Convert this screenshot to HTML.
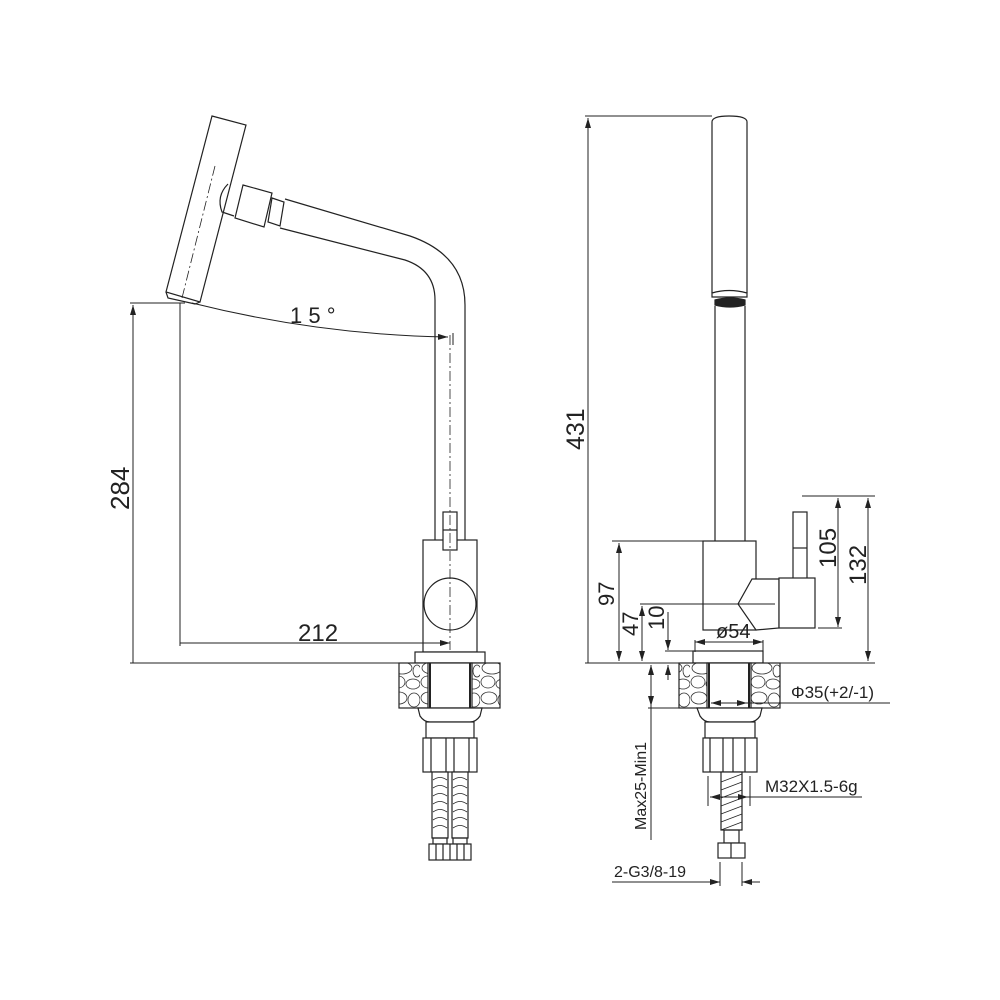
<!DOCTYPE html>
<html><head><meta charset="utf-8"><style>
html,body{margin:0;padding:0;background:#fff}
svg{display:block}
text{font-family:"Liberation Sans",Arial,sans-serif;fill:#222}
</style></head><body>
<svg width="1000" height="1000" viewBox="0 0 1000 1000" xmlns="http://www.w3.org/2000/svg">
<defs>
<marker id="a" viewBox="0 0 10 6" refX="10" refY="3" markerWidth="10" markerHeight="6" orient="auto-start-reverse" markerUnits="userSpaceOnUse"><path d="M0,0 L10,3 L0,6 z" fill="#222"/></marker>
<pattern id="stone" width="30" height="46" patternUnits="userSpaceOnUse">
<rect width="30" height="46" fill="#fff"/>
<g fill="none" stroke="#333" stroke-width="0.8">
<ellipse cx="9" cy="8" rx="8" ry="6"/><ellipse cx="24" cy="10" rx="6" ry="7"/>
<ellipse cx="12" cy="24" rx="10" ry="6"/><ellipse cx="27" cy="27" rx="4" ry="6"/>
<ellipse cx="8" cy="38" rx="7" ry="6"/><ellipse cx="23" cy="40" rx="7" ry="5"/>
</g></pattern>
</defs>
<g fill="none" stroke="#222" stroke-width="1.2">
<!-- ================= LEFT VIEW ================= -->
<polygon points="212,116 246,125 200,302 166,292" fill="#fff"/>
<line x1="215" y1="166" x2="182" y2="298" stroke-dasharray="10,3,2,3" stroke-width="0.8"/>
<path d="M166,292 L168,298 L195,304 L200,302"/>
<path d="M228,184 Q216,196 222,212 L234,216"/>
<polygon points="243,185 272,193 264,227 235,218" fill="#fff"/>
<polygon points="272,198 284,202 280,226 268,222" fill="#fff"/>
<path d="M285,199 L410,236 Q465,255 465,305 L465,540"/>
<path d="M280,228 L405,260 Q435,270 435,300 L435,540"/>
<rect x="423" y="540" width="54" height="112" fill="#fff"/>
<rect x="443" y="512" width="14" height="38" fill="#fff"/>
<line x1="443" y1="530" x2="457" y2="530"/>
<circle cx="450" cy="604" r="26" fill="#fff"/>
<line x1="450" y1="335" x2="450" y2="650" stroke-dasharray="10,3,2,3" stroke-width="0.8"/>
<rect x="415" y="652" width="70" height="11" fill="#fff"/>
<rect x="399" y="663" width="101" height="45" fill="url(#stone)"/>
<rect x="428" y="663" width="44" height="45" fill="#fff"/>
<line x1="430" y1="663" x2="430" y2="708" stroke-width="2"/><line x1="470" y1="663" x2="470" y2="708" stroke-width="2"/>
<path d="M418,708 L482,708 L480,716 Q476,722 470,722 L430,722 Q424,722 420,716 Z" fill="#fff"/>
<rect x="426" y="722" width="48" height="16" fill="#fff"/>
<rect x="423" y="738" width="54" height="34" fill="#fff"/>
<line x1="431" y1="738" x2="431" y2="772"/><line x1="446" y1="738" x2="446" y2="772"/><line x1="454" y1="738" x2="454" y2="772"/><line x1="469" y1="738" x2="469" y2="772"/>
<rect x="432" y="772" width="16" height="66" fill="#fff"/><rect x="452" y="772" width="16" height="66" fill="#fff"/>
<g stroke-width="0.8">
<path d="M433,780 Q440,775 447,780 M433,788 Q440,783 447,788 M433,796 Q440,791 447,796 M433,804 Q440,799 447,804 M433,812 Q440,807 447,812 M433,820 Q440,815 447,820 M433,828 Q440,823 447,828"/>
<path d="M453,780 Q460,775 467,780 M453,788 Q460,783 467,788 M453,796 Q460,791 467,796 M453,804 Q460,799 467,804 M453,812 Q460,807 467,812 M453,820 Q460,815 467,820 M453,828 Q460,823 467,828"/>
</g>
<rect x="433" y="838" width="14" height="6"/><rect x="453" y="838" width="14" height="6"/>
<rect x="429" y="844" width="42" height="16" fill="#fff"/>
<line x1="436" y1="844" x2="436" y2="860"/><line x1="443" y1="844" x2="443" y2="860"/><line x1="450" y1="844" x2="450" y2="860"/><line x1="457" y1="844" x2="457" y2="860"/><line x1="464" y1="844" x2="464" y2="860"/>
</g>
<g fill="none" stroke="#222" stroke-width="1">
<line x1="130" y1="303" x2="185" y2="303"/>
<line x1="133" y1="305" x2="133" y2="663" marker-start="url(#a)"/>
<line x1="130" y1="663" x2="400" y2="663"/>
<line x1="180" y1="303" x2="180" y2="646"/>
<line x1="180" y1="643" x2="450" y2="643" marker-end="url(#a)"/>
<path d="M192,303 Q320,335 448,337" marker-end="url(#a)"/>
<line x1="453" y1="333" x2="453" y2="345"/>
</g>
<text x="290" y="323" font-size="22">1 5 °</text>
<text x="298" y="641" font-size="24">212</text>
<text transform="translate(129,510) rotate(-90)" font-size="26">284</text>

<!-- ================= RIGHT VIEW ================= -->
<g fill="none" stroke="#222" stroke-width="1.2">
<path d="M712,293 L712,122 Q712,116 729,116 Q747,116 747,122 L747,293" fill="#fff"/>
<path d="M712,293 Q729,288 747,293 L747,297 L712,297 Z"/>
<path d="M715,300 Q730,296 745,300 L745,305 Q730,309 715,305 Z" fill="#222"/>
<line x1="715" y1="306" x2="715" y2="541"/><line x1="745" y1="306" x2="745" y2="541"/>
<rect x="703" y="541" width="53" height="89" fill="#fff"/>
<rect x="793" y="512" width="14" height="68" fill="#fff"/>
<line x1="793" y1="548" x2="807" y2="548"/>
<polygon points="752,579 779,579 779,628 756,630 738,604" fill="#fff"/>
<line x1="779" y1="579" x2="783" y2="628"/>
<rect x="779" y="578" width="36" height="50" fill="#fff"/>
<rect x="693" y="651" width="70" height="12" fill="#fff"/>
<rect x="679" y="663" width="101" height="45" fill="url(#stone)"/>
<rect x="707" y="663" width="44" height="45" fill="#fff"/>
<line x1="709" y1="663" x2="709" y2="708" stroke-width="2"/><line x1="749" y1="663" x2="749" y2="708" stroke-width="2"/>
<path d="M697,708 L762,708 L760,716 Q756,722 750,722 L710,722 Q704,722 700,716 Z" fill="#fff"/>
<rect x="705" y="722" width="50" height="16" fill="#fff"/>
<rect x="703" y="738" width="54" height="34" fill="#fff"/>
<line x1="710" y1="738" x2="710" y2="772"/><line x1="723" y1="738" x2="723" y2="772"/><line x1="733" y1="738" x2="733" y2="772"/><line x1="745" y1="738" x2="745" y2="772"/>
<rect x="721" y="772" width="21" height="58" fill="#fff"/>
<path d="M721,782 L742,774 M721,790 L742,782 M721,798 L742,790 M721,806 L742,798 M721,814 L742,806 M721,822 L742,814 M721,830 L742,822" stroke-width="0.8"/>
<rect x="724" y="830" width="15" height="13"/>
<rect x="718" y="843" width="27" height="15" fill="#fff"/>
<line x1="731" y1="843" x2="731" y2="858"/>
</g>
<g fill="none" stroke="#222" stroke-width="1">
<line x1="585" y1="116" x2="712" y2="116"/>
<line x1="588" y1="118" x2="588" y2="663" marker-start="url(#a)"/>
<line x1="585" y1="663" x2="875" y2="663"/>
<line x1="612" y1="541" x2="703" y2="541"/>
<line x1="619" y1="543" x2="619" y2="661" marker-start="url(#a)" marker-end="url(#a)"/>
<line x1="640" y1="604" x2="775" y2="604"/>
<line x1="642" y1="606" x2="642" y2="661" marker-start="url(#a)" marker-end="url(#a)"/>
<line x1="665" y1="651" x2="695" y2="651"/>
<line x1="668" y1="612" x2="668" y2="650" marker-end="url(#a)"/>
<line x1="668" y1="680" x2="668" y2="665" marker-end="url(#a)"/>
<line x1="695" y1="642" x2="763" y2="642" marker-start="url(#a)" marker-end="url(#a)"/>
<line x1="695" y1="640" x2="695" y2="652"/><line x1="763" y1="640" x2="763" y2="652"/>
<line x1="802" y1="496" x2="875" y2="496"/>
<line x1="838" y1="498" x2="838" y2="627" marker-start="url(#a)" marker-end="url(#a)"/>
<line x1="818" y1="628" x2="842" y2="628"/>
<line x1="868" y1="498" x2="868" y2="661" marker-start="url(#a)" marker-end="url(#a)"/>
<line x1="648" y1="708" x2="680" y2="708"/>
<line x1="651" y1="665" x2="651" y2="706" marker-start="url(#a)" marker-end="url(#a)"/>
<line x1="651" y1="706" x2="651" y2="840"/>
<line x1="711" y1="703" x2="747" y2="703" marker-start="url(#a)" marker-end="url(#a)"/>
<line x1="747" y1="703" x2="890" y2="703"/>
<line x1="708" y1="776" x2="708" y2="806"/><line x1="750" y1="776" x2="750" y2="806"/>
<line x1="710" y1="797" x2="748" y2="797" marker-start="url(#a)" marker-end="url(#a)"/>
<line x1="748" y1="797" x2="862" y2="797"/>
<line x1="720" y1="862" x2="720" y2="886"/><line x1="742" y1="862" x2="742" y2="886"/>
<line x1="612" y1="882" x2="720" y2="882" marker-end="url(#a)"/>
<line x1="760" y1="882" x2="742" y2="882" marker-end="url(#a)"/>
</g>
<text transform="translate(584,450) rotate(-90)" font-size="25">431</text>
<text transform="translate(614,606) rotate(-90)" font-size="22">97</text>
<text transform="translate(638,636) rotate(-90)" font-size="22">47</text>
<text transform="translate(664,630) rotate(-90)" font-size="22">10</text>
<text x="716" y="638" font-size="20">ø54</text>
<text transform="translate(836,568) rotate(-90)" font-size="24">105</text>
<text transform="translate(866,585) rotate(-90)" font-size="24">132</text>
<text x="791" y="698" font-size="17">Φ35(+2/-1)</text>
<text transform="translate(646,830) rotate(-90)" font-size="16">Max25-Min1</text>
<text x="765" y="792" font-size="17">M32X1.5-6g</text>
<text x="614" y="877" font-size="16">2-G3/8-19</text>
</svg>
</body></html>
